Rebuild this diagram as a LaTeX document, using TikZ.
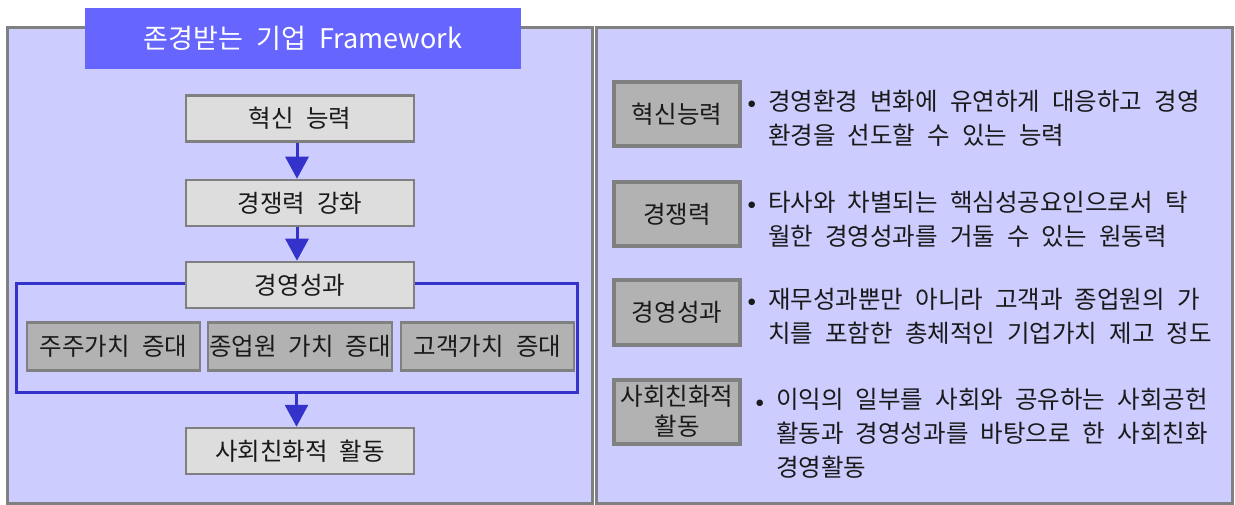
\documentclass[tikz,border=0pt]{standalone}
\usepackage{fontspec}
\setmainfont{Noto Sans CJK KR}[WordSpace=2.2]
\newfontfamily\dejavu{DejaVu Sans}
\usetikzlibrary{arrows.meta}
\definecolor{panelfill}{HTML}{CCCCFF}
\definecolor{panelline}{HTML}{808080}
\definecolor{titlefill}{HTML}{6666FF}
\definecolor{lightbox}{HTML}{DDDDDD}
\definecolor{darkbox}{HTML}{B2B2B2}
\definecolor{arrblue}{HTML}{3333CC}
\definecolor{txt}{HTML}{1A1A1A}
\tikzset{
  panelbox/.style={draw=panelline, fill=panelfill, line width=3pt},
  stepbox/.style={draw=panelline, fill=lightbox, line width=2.5pt, minimum width=228, minimum height=46},
  valbox/.style={draw=panelline, fill=darkbox, line width=2.5pt, minimum height=48},
  keybox/.style={draw=panelline, fill=darkbox, line width=4pt, minimum width=126, minimum height=64, align=center},
  desc/.style={anchor=west, align=left},
  flow/.style={draw=arrblue, line width=3pt, -{Triangle[length=22pt,width=23pt]}},
}
\newcommand{\bul}{\makebox[20pt][l]{\raisebox{3.5pt}{\dejavu\fontsize{8.5}{8.5}\selectfont ●}}}
\newcommand{\ind}{\hspace*{20pt}}
\begin{document}
\begin{tikzpicture}[x=1pt,y=-1pt, every node/.style={inner sep=0pt, font=\fontsize{24.5}{34}\selectfont, text=txt}]
\useasboundingbox (0,0) rectangle (1235,505);
% panels
\node[panelbox, minimum width=585, minimum height=475] (lp) at (299.5,265.5) {};
\node[panelbox, minimum width=636, minimum height=475] (rp) at (914.5,265.5) {};
% title
\node[fill=titlefill, minimum width=436, minimum height=61, text=white, font=\fontsize{27}{30}\selectfont] (title) at (303,38.5) {존경받는 기업 Framework};
% blue group frame
\node[draw=arrblue, line width=3pt, minimum width=561, minimum height=108] (grp) at (296.5,338) {};
% left flow
\node[stepbox] (a) at (300,118.5) {혁신 능력};
\node[stepbox] (b) at (300,203) {경쟁력 강화};
\node[stepbox] (c) at (300,285) {경영성과};
\node[valbox, minimum width=173] (v1) at (113.5,346.5) {주주가치 증대};
\node[valbox, minimum width=184] (v2) at (300,346.5) {종업원 가치 증대};
\node[valbox, minimum width=173] (v3) at (487.5,346.5) {고객가치 증대};
\node[stepbox] (d) at (300,451) {사회친화적 활동};
\draw[flow] ([xshift=-3pt]a.south) -- ([xshift=-3pt]b.north);
\draw[flow] ([xshift=-3pt]b.south) -- ([xshift=-3pt]c.north);
\draw[flow] (grp.south) -- (grp.south |- d.north);
% right side
\node[keybox] (k1) at (677,114.5) {혁신능력};
\node[keybox] (k2) at (677,214) {경쟁력};
\node[keybox] (k3) at (677,312.5) {경영성과};
\node[keybox] (k4) at (677,411.5) {사회친화적\\[-4pt]활동};
\node[desc] (t1) at (748,118) {\bul 경영환경 변화에 유연하게 대응하고 경영\\ \ind 환경을 선도할 수 있는 능력};
\node[desc] (t2) at (748,219) {\bul 타사와 차별되는 핵심성공요인으로서 탁\\ \ind 월한 경영성과를 거둘 수 있는 원동력};
\node[desc] (t3) at (748,316) {\bul 재무성과뿐만 아니라 고객과 종업원의 가\\ \ind 치를 포함한 총체적인 기업가치 제고 정도};
\node[desc] (t4) at (756,433.5) {\bul 이익의 일부를 사회와 공유하는 사회공헌\\ \ind 활동과 경영성과를 바탕으로 한 사회친화\\ \ind 경영활동};
\end{tikzpicture}
\end{document}
